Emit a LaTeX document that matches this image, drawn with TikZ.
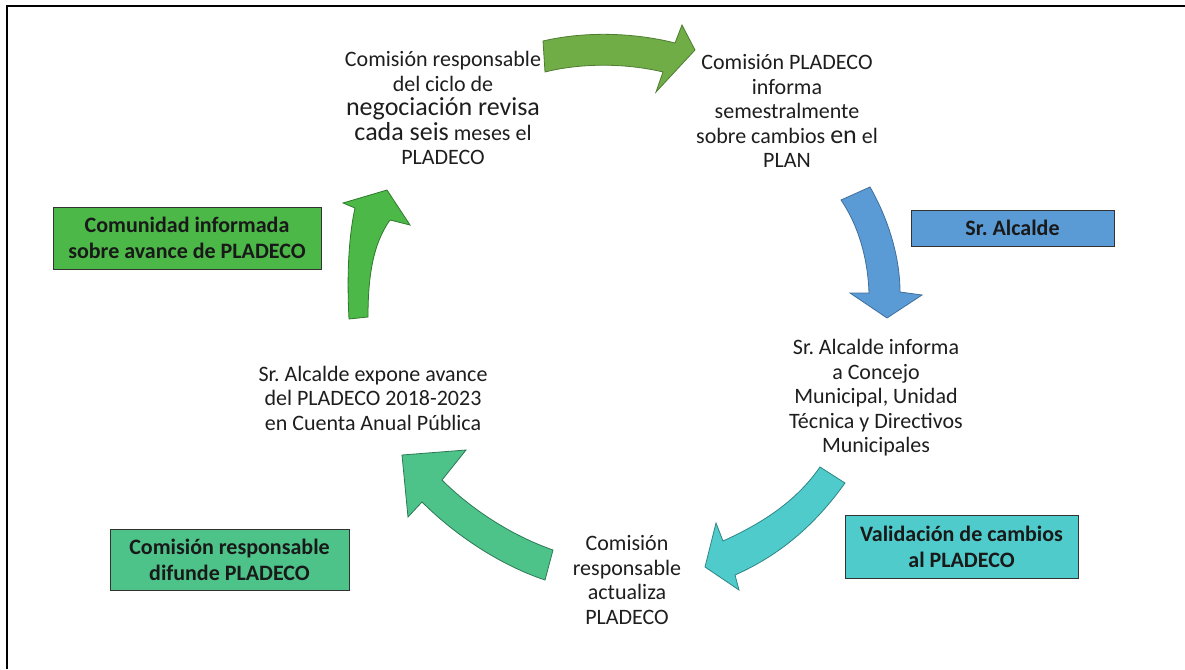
\documentclass[tikz,border=0pt]{standalone}
\usepackage{fontspec}
\setmainfont{Carlito}
\frenchspacing
\definecolor{gtop}{HTML}{70AD47}
\definecolor{gtopd}{HTML}{4E7D31}
\definecolor{blu}{HTML}{5B9BD5}
\definecolor{blud}{HTML}{3F6F9C}
\definecolor{teal}{HTML}{4FCBCB}
\definecolor{teald}{HTML}{2F8585}
\definecolor{sea}{HTML}{4DC38A}
\definecolor{sead}{HTML}{2C7A55}
\definecolor{grn}{HTML}{4CB848}
\definecolor{grnd}{HTML}{2F7A2C}
\definecolor{txt}{HTML}{1E1E1E}
\tikzset{
  lbl/.style={align=center, inner sep=0pt, text=txt, font=\fontsize{22}{24.5}\selectfont},
  infobox/.style={draw=black!80, line width=0.9pt, align=center, inner sep=0pt, text=black!90,
    font=\bfseries\fontsize{22}{26}\selectfont},
  blockarrow/.style={line width=0.8pt, line join=miter}
}
\newcommand{\bigw}[1]{{\fontsize{26}{24.5}\selectfont #1}}
\begin{document}
\begin{tikzpicture}[x=1pt,y=-1pt]
\useasboundingbox (0,0) rectangle (1185,669);
\fill[white] (0,0) rectangle (1185,669);
% frame
\draw[line width=2.2pt] (7,669) -- (7,6) -- (1185,6);

% text nodes
\node[lbl] (t1) at (443,108) {Comisión responsable\\del ciclo de\\\bigw{negociación revisa}\\\bigw{cada seis} meses el\\PLADECO};
\node[lbl] (t2) at (787,111) {Comisión PLADECO\\informa\\semestralmente\\sobre cambios \bigw{en} el\\PLAN};
\node[lbl] (t3) at (876,398) {Sr. Alcalde informa\\a Concejo\\Municipal, Unidad\\Técnica y Directivos\\Municipales};
\node[lbl] (t4) at (627,580) {Comisión\\responsable\\actualiza\\PLADECO};
\node[lbl] (t5) at (373,398) {Sr. Alcalde expone avance\\del PLADECO 2018-2023\\en Cuenta Anual Pública};

% boxes
\node[infobox, fill=grn, minimum width=268pt, minimum height=62pt] (comm) at (187,238) {Comunidad informada\\sobre avance de PLADECO};
\node[infobox, fill=blu, minimum width=203pt, minimum height=36pt] (alc) at (1012.5,228) {Sr. Alcalde};
\node[infobox, fill=teal, minimum width=233pt, minimum height=63pt] (val) at (961.5,546.5) {Validación de cambios\\al PLADECO};
\node[infobox, fill=sea, minimum width=239pt, minimum height=61pt] (dif) at (229.5,559.5) {Comisión responsable\\difunde PLADECO};

% curved block arrows
% top (t1 -> t2)
\filldraw[blockarrow, fill=gtop, draw=gtopd]
  (543,41) .. controls (590,30) and (640,34) .. (675,43) -- (682,25) -- (695,50) -- (656,92) -- (663,72)
  .. controls (630,64) and (585,62) .. (545,72) -- cycle;
% right (t2 -> t3)
\filldraw[blockarrow, fill=blu, draw=blud]
  (841,200) -- (870,187) .. controls (890,222) and (900,260) .. (900,292) -- (922,295) -- (887,318) -- (850,293) -- (869,293)
  .. controls (868,262) and (860,228) .. (841,200) -- cycle;
% bottom right (t3 -> t4)
\filldraw[blockarrow, fill=teal, draw=teald]
  (820,467) -- (845,483) .. controls (815,525) and (780,555) .. (735,575) -- (739,590) -- (705,567) -- (716,523) -- (723,541)
  .. controls (765,522) and (797,500) .. (820,467) -- cycle;
% bottom left (t4 -> t5)
\filldraw[blockarrow, fill=sea, draw=sead]
  (553,550) -- (545,580) .. controls (500,565) and (455,535) .. (422,502) -- (408,517) -- (402,455) -- (466,450) -- (442,480)
  .. controls (470,508) and (510,535) .. (553,550) -- cycle;
% left (t5 -> t1)
\filldraw[blockarrow, fill=grn, draw=grnd]
  (349,319) -- (368,317) .. controls (368,280) and (372,245) .. (390,220) -- (410,225) -- (387,190) -- (343,203) -- (355,208)
  .. controls (348,240) and (347,280) .. (349,319) -- cycle;
\end{tikzpicture}
\end{document}
